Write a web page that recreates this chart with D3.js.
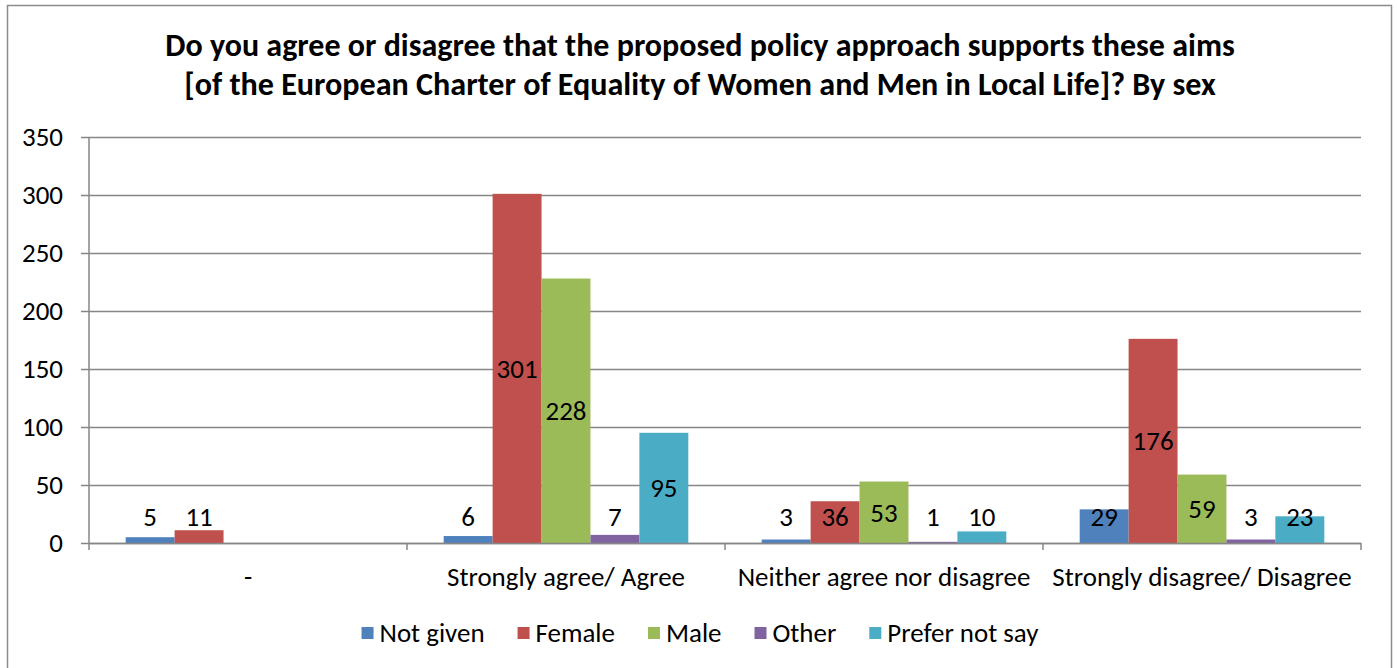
<!DOCTYPE html>
<html><head><meta charset="utf-8">
<script src="https://cdn.jsdelivr.net/npm/d3@7"></script>
<style>
body{margin:0;background:#fff;}
text{font-family:Carlito,Lato,"Liberation Sans",sans-serif;}
</style></head><body>
<svg id="c" width="1397" height="668"></svg>
<script>
const categories = ["-", "Strongly agree/ Agree", "Neither agree nor disagree", "Strongly disagree/ Disagree"];
const seriesNames = ["Not given", "Female", "Male", "Other", "Prefer not say"];
const notGiven = [5, 6, 3, 29];
const female = [11, 301, 36, 176];
const male = [0, 228, 53, 59];
const other = [0, 7, 1, 3];
const preferNotSay = [0, 95, 10, 23];
const yTicks = [0, 50, 100, 150, 200, 250, 300, 350];
const colors = ["#4F81BD", "#C0504D", "#9BBB59", "#8064A2", "#4BACC6"];
const titleLines = ["Do you agree or disagree that the proposed policy approach supports these aims",
  "[of the European Charter of Equality of Women and Men in Local Life]? By sex"];

const series = [notGiven, female, male, other, preferNotSay];
const svg = d3.select("#c");

// frame
svg.append("rect").attr("x",7.5).attr("y",5.5).attr("width",1384).attr("height",670)
  .attr("fill","#fff").attr("stroke","#8c8c8c").attr("stroke-width",1.5);

// measure base font size
const probe = svg.append("text").attr("font-size",20).text("Strongly agree/ Agree");
const fs = 20 * 238 / probe.node().getComputedTextLength();
probe.remove();

const pL = 89, pR = 1361, pT = 137, pB = 543;
const x0 = d3.scaleBand().domain(categories).range([pL, pR]).paddingInner(0).paddingOuter(0);
const x1 = d3.scaleBand().domain(seriesNames).range([0, x0.bandwidth()]).paddingOuter(0.75).paddingInner(0);
const y = d3.scaleLinear().domain([0, 350]).range([pB, pT]);

// title
const tg = svg.append("g");
const targetW = [1070, 1032];
titleLines.forEach((t,i)=>{
  const el = tg.append("text").attr("x",700).attr("y",[56,95][i]).attr("text-anchor","middle")
   .attr("font-weight","bold").attr("font-size",24).attr("fill","#000").text(t);
  const w = el.node().getComputedTextLength();
  el.attr("font-size", 24*targetW[i]/w);
});

// gridlines
svg.append("g").selectAll("line").data(yTicks).join("line")
  .attr("x1",pL).attr("x2",pR).attr("y1",d=>Math.round(y(d))+0.5).attr("y2",d=>Math.round(y(d))+0.5)
  .attr("stroke","#868686").attr("stroke-width",1.5);

// y axis
const ya = svg.append("g").attr("transform",`translate(${pL},0)`)
  .call(d3.axisLeft(y).tickValues(yTicks).tickSize(8).tickPadding(18));
ya.select(".domain").attr("stroke","#868686").attr("stroke-width",1.5).attr("d",`M0,${pT}V${pB}`);
ya.selectAll(".tick line").attr("stroke","#868686").attr("stroke-width",1.5);
ya.selectAll(".tick text").attr("font-size",fs).attr("fill","#000").attr("font-family",null);
ya.attr("font-family",null);

// bars
const g = svg.append("g");
categories.forEach((c,ci)=>{
  seriesNames.forEach((s,si)=>{
    const v = series[si][ci];
    if (v>0) g.append("rect").attr("x",x0(c)+x1(s)).attr("width",x1.bandwidth())
      .attr("y",y(v)).attr("height",y(0)-y(v)).attr("fill",colors[si]);
  });
});

// x axis
svg.append("line").attr("x1",pL).attr("x2",pR).attr("y1",pB+0.5).attr("y2",pB+0.5)
  .attr("stroke","#868686").attr("stroke-width",1.5);
const bounds = categories.map(c=>x0(c)).concat([pR]);
svg.append("g").selectAll("line").data(bounds).join("line")
  .attr("x1",d=>d).attr("x2",d=>d).attr("y1",pB).attr("y2",pB+7)
  .attr("stroke","#868686").attr("stroke-width",1.5);
svg.append("g").selectAll("text").data(categories).join("text")
  .attr("x",d=>x0(d)+x0.bandwidth()/2).attr("y",577).attr("dy","0.35em").attr("text-anchor","middle")
  .attr("font-size",fs).attr("fill","#000").text(d=>d);

// data labels
categories.forEach((c,ci)=>{
  seriesNames.forEach((s,si)=>{
    const v = series[si][ci];
    if (v>0){
      const cy = Math.min((y(v)+y(0))/2, pB-26);
      g.append("text").attr("x",x0(c)+x1(s)+x1.bandwidth()/2).attr("y",cy).attr("dy","0.35em")
        .attr("text-anchor","middle").attr("font-size",fs).attr("fill","#000").text(v);
    }
  });
});

// legend
const lg = svg.append("g");
let lx = 0;
const gap = 33;
seriesNames.forEach((s,i)=>{
  const it = lg.append("g");
  it.append("rect").attr("x",0).attr("y",-6).attr("width",12).attr("height",12).attr("fill",colors[i]);
  const t = it.append("text").attr("x",18).attr("y",0).attr("dy","0.35em").attr("font-size",fs).attr("fill","#000").text(s);
  const w = 18 + t.node().getComputedTextLength();
  it.attr("transform",`translate(${lx},633)`);
  lx += w + gap;
});
lx -= gap;
lg.attr("transform",`translate(${700 - lx/2},0)`);
</script></body></html>
